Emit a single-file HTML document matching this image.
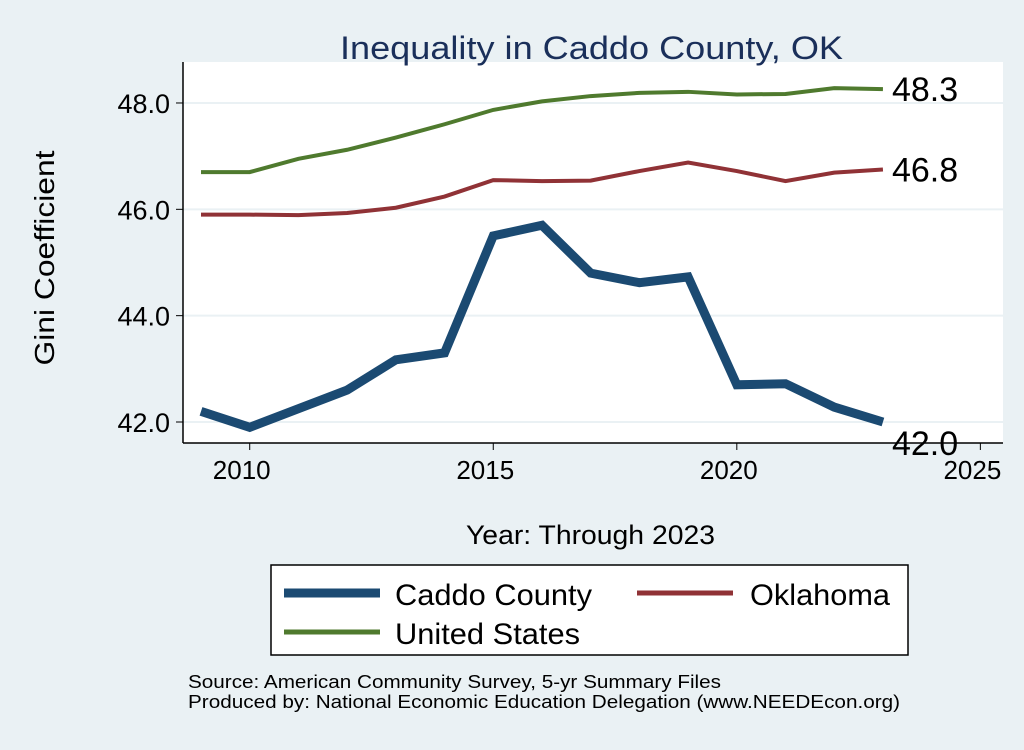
<!DOCTYPE html>
<html><head><meta charset="utf-8"><style>
body{margin:0;background:#eaf1f4;font-family:"Liberation Sans",sans-serif}
</style></head><body>
<svg width="1024" height="745" xmlns="http://www.w3.org/2000/svg" font-family="Liberation Sans, sans-serif">
<rect width="1024" height="745" fill="#eaf1f4"/>
<rect x="183" y="62" width="820" height="381" fill="#fff"/>
<text x="340" y="59" font-size="32" fill="#1a2f5a" textLength="503" lengthAdjust="spacingAndGlyphs">Inequality in Caddo County, OK</text>
<g id="grid"></g><g id="axes"></g><g id="series"></g>
<text transform="translate(54,258) rotate(-90)" font-size="28" text-anchor="middle" textLength="215" lengthAdjust="spacingAndGlyphs" fill="#000">Gini Coefficient</text>
<text x="466" y="544" font-size="27" textLength="249" lengthAdjust="spacingAndGlyphs" fill="#000">Year: Through 2023</text>
<g>
<rect x="271" y="565" width="637" height="90" fill="#fff" stroke="#000" stroke-width="1.5"/>
<line x1="284" y1="593" x2="380" y2="593" stroke="#1b4a72" stroke-width="9"/>
<text x="395" y="605" font-size="30" textLength="197" lengthAdjust="spacingAndGlyphs">Caddo County</text>
<line x1="637" y1="593" x2="733" y2="593" stroke="#903236" stroke-width="5"/>
<text x="750" y="605" font-size="30" textLength="140" lengthAdjust="spacingAndGlyphs">Oklahoma</text>
<line x1="284" y1="632" x2="380" y2="632" stroke="#4f7a2e" stroke-width="5"/>
<text x="395" y="644" font-size="30" textLength="185" lengthAdjust="spacingAndGlyphs">United States</text>
</g>
<text x="188" y="688" font-size="18" textLength="533" lengthAdjust="spacingAndGlyphs">Source: American Community Survey, 5-yr Summary Files</text>
<text x="188" y="708" font-size="18" textLength="712" lengthAdjust="spacingAndGlyphs">Produced by: National Economic Education Delegation (www.NEEDEcon.org)</text>
</svg>
<script>
const years=[2009,2010,2011,2012,2013,2014,2015,2016,2017,2018,2019,2020,2021,2022,2023];
const caddo=[42.2,41.9,42.25,42.6,43.17,43.3,45.5,45.7,44.8,44.62,44.73,42.7,42.72,42.28,42.0];
const oklahoma=[45.9,45.9,45.89,45.93,46.03,46.24,46.55,46.53,46.54,46.72,46.88,46.72,46.53,46.69,46.75];
const us=[46.7,46.7,46.95,47.12,47.35,47.6,47.87,48.03,48.13,48.19,48.21,48.16,48.17,48.28,48.26];
const yTicks=[42,44,46,48];
const xTicks=[2010,2015,2020,2025];
const NS="http://www.w3.org/2000/svg";
const X=v=>201+(v-2009)*48.71, Y=v=>422-(v-42)*53.17;
function mk(t,a,p){const e=document.createElementNS(NS,t);for(const k in a)e.setAttribute(k,a[k]);p.appendChild(e);return e;}
const grid=document.getElementById('grid'),axes=document.getElementById('axes'),ser=document.getElementById('series');
yTicks.forEach(v=>{
 const g=mk('line',{x1:183,x2:1003,y1:Y(v),y2:Y(v),stroke:'#eaf1f4','stroke-width':2},grid);
 
 
 mk('line',{x1:176,x2:183,y1:Y(v),y2:Y(v),stroke:'#000'},axes);
 const t=mk('text',{x:170,y:Y(v)+10,'font-size':27,'text-anchor':'end'},axes);t.textContent=v.toFixed(1);
 
 
});
xTicks.forEach(v=>{
 mk('line',{x1:X(v),x2:X(v),y1:443,y2:450,stroke:'#000'},axes);
 const t=mk('text',{x:X(v)-8,y:479,'font-size':26,'text-anchor':'middle'},axes);t.textContent=v;
 
 
});
mk('line',{x1:183,x2:183,y1:62,y2:443,stroke:'#000','stroke-width':1.5},axes);
mk('line',{x1:183,x2:1003,y1:443,y2:443,stroke:'#000','stroke-width':1.5},axes);
function line(d,c,w,name){
 const p=mk('polyline',{points:years.map((y,i)=>X(y)+','+Y(d[i])).join(' '),fill:'none',stroke:c,'stroke-width':w,'stroke-linejoin':'miter'},ser);
 
 
 const last=d[d.length-1];
 const t=mk('text',{x:X(years[years.length-1])+9,y:Y(last)+(name==='caddo-line'?33:12),'font-size':34},ser);t.textContent=last.toFixed(1);
 
 
}
line(us,'#4f7a2e',4,'us-line');
line(oklahoma,'#903236',4,'oklahoma-line');
line(caddo,'#1b4a72',9,'caddo-line');
</script>
</body></html>
